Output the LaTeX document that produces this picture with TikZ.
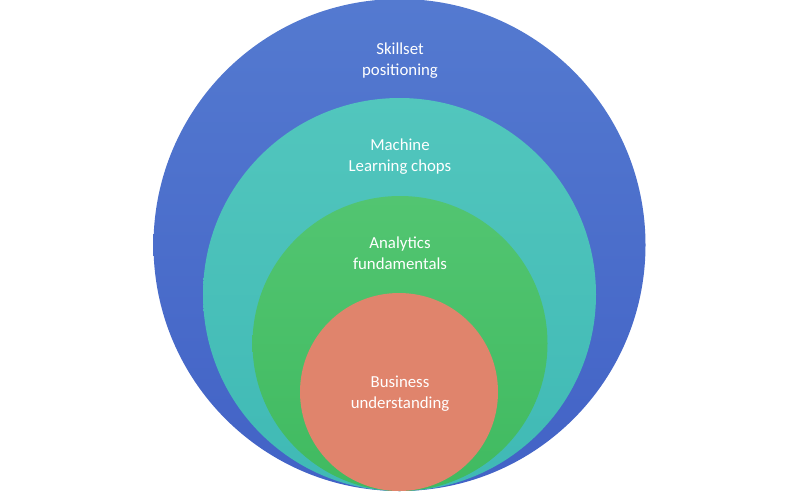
\documentclass[tikz,border=0pt]{standalone}
\usepackage{fontspec}
\setmainfont{Carlito}
\definecolor{cblueT}{HTML}{547AD0}
\definecolor{cblueB}{HTML}{4262C6}
\definecolor{ctealT}{HTML}{52C6BD}
\definecolor{ctealB}{HTML}{3FB9B5}
\definecolor{cgreenT}{HTML}{52C571}
\definecolor{cgreenB}{HTML}{40BA60}
\definecolor{csalmon}{HTML}{E0846C}
\begin{document}
\begin{tikzpicture}[x=1pt,y=-1pt,
  lbl/.style={text=white, font=\fontsize{16.8}{21}\selectfont, align=center}]
\useasboundingbox (0,0) rectangle (800,493);
\fill[white] (0,0) rectangle (800,493);
\shade[top color=cblueT, bottom color=cblueB] (399.5,245) circle (246);
\shade[top color=ctealT, bottom color=ctealB] (399.5,294.5) circle (196.5);
\shade[top color=cgreenT, bottom color=cgreenB] (400,343.5) circle (147.5);
\fill[csalmon] (399,392) circle (99);
\node[lbl] (s) at (400,61) {Skillset\\positioning};
\node[lbl] (m) at (400,157) {Machine\\Learning chops};
\node[lbl] (a) at (400,253) {Analytics\\fundamentals};
\node[lbl] (b) at (400,394) {Business\\understanding};
\end{tikzpicture}
\end{document}
